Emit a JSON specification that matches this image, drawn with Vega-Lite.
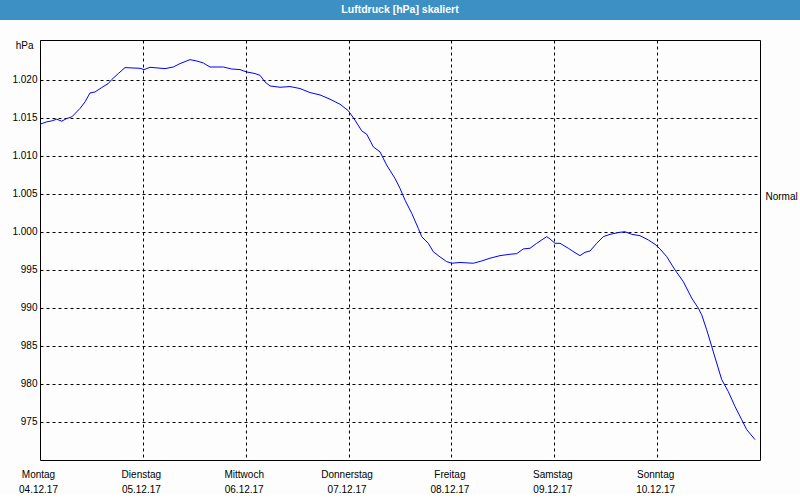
{
  "$schema": "https://vega.github.io/schema/vega-lite/v6.json",
  "background": "#fcfdfc",
  "padding": 0,
  "autosize": {"type": "pad"},
  "spacing": 20,
  "center": true,
  "bounds": "flush",
  "config": {
    "font": "Liberation Sans",
    "axis": {"labelFont": "Liberation Sans", "labelFontSize": 10, "labelColor": "#000000", "titleColor": "#000000"},
    "view": {"stroke": null}
  },
  "vconcat": [
    {
      "width": 800,
      "height": 20,
      "view": {"fill": "#3d90c4", "stroke": null},
      "data": {"values": [{"label": "Luftdruck [hPa] skaliert"}]},
      "mark": {"type": "text", "color": "#ffffff", "font": "Liberation Sans", "fontSize": 10.5, "fontWeight": "bold", "baseline": "middle", "align": "center"},
      "encoding": {"text": {"field": "label", "type": "nominal"}}
    },
    {
      "width": 720,
      "height": 420,
      "view": {"fill": "#fcfdfc", "stroke": "#000000", "strokeWidth": 1},
      "data": {"values": [
        {"t": "2017-12-04T00:00:00Z", "p": 1014.14},
        {"t": "2017-12-04T01:34:00Z", "p": 1014.44},
        {"t": "2017-12-04T02:44:00Z", "p": 1014.57},
        {"t": "2017-12-04T03:54:00Z", "p": 1014.79},
        {"t": "2017-12-04T05:04:00Z", "p": 1014.53},
        {"t": "2017-12-04T06:14:00Z", "p": 1014.88},
        {"t": "2017-12-04T07:24:00Z", "p": 1015.09},
        {"t": "2017-12-04T09:20:00Z", "p": 1016.20},
        {"t": "2017-12-04T10:30:00Z", "p": 1017.06},
        {"t": "2017-12-04T11:40:00Z", "p": 1018.24},
        {"t": "2017-12-04T12:50:00Z", "p": 1018.37},
        {"t": "2017-12-04T14:24:00Z", "p": 1018.95},
        {"t": "2017-12-04T15:56:00Z", "p": 1019.48},
        {"t": "2017-12-04T16:44:00Z", "p": 1020.00},
        {"t": "2017-12-04T18:16:00Z", "p": 1020.79},
        {"t": "2017-12-04T19:50:00Z", "p": 1021.57},
        {"t": "2017-12-04T23:20:00Z", "p": 1021.48},
        {"t": "2017-12-05T00:16:00Z", "p": 1021.31},
        {"t": "2017-12-05T01:40:00Z", "p": 1021.61},
        {"t": "2017-12-05T05:10:00Z", "p": 1021.44},
        {"t": "2017-12-05T07:06:00Z", "p": 1021.65},
        {"t": "2017-12-05T08:40:00Z", "p": 1022.10},
        {"t": "2017-12-05T11:00:00Z", "p": 1022.62},
        {"t": "2017-12-05T12:34:00Z", "p": 1022.44},
        {"t": "2017-12-05T14:06:00Z", "p": 1022.18},
        {"t": "2017-12-05T15:40:00Z", "p": 1021.65},
        {"t": "2017-12-05T18:46:00Z", "p": 1021.65},
        {"t": "2017-12-05T20:44:00Z", "p": 1021.39},
        {"t": "2017-12-05T22:40:00Z", "p": 1021.31},
        {"t": "2017-12-06T00:14:00Z", "p": 1021.00},
        {"t": "2017-12-06T02:10:00Z", "p": 1020.79},
        {"t": "2017-12-06T03:20:00Z", "p": 1020.56},
        {"t": "2017-12-06T04:30:00Z", "p": 1019.69},
        {"t": "2017-12-06T05:40:00Z", "p": 1019.16},
        {"t": "2017-12-06T08:00:00Z", "p": 1018.99},
        {"t": "2017-12-06T10:20:00Z", "p": 1019.08},
        {"t": "2017-12-06T12:40:00Z", "p": 1018.82},
        {"t": "2017-12-06T15:00:00Z", "p": 1018.29},
        {"t": "2017-12-06T17:20:00Z", "p": 1017.98},
        {"t": "2017-12-06T19:40:00Z", "p": 1017.42},
        {"t": "2017-12-06T22:00:00Z", "p": 1016.76},
        {"t": "2017-12-06T23:56:00Z", "p": 1015.91},
        {"t": "2017-12-07T01:30:00Z", "p": 1014.66},
        {"t": "2017-12-07T03:04:00Z", "p": 1013.26},
        {"t": "2017-12-07T04:14:00Z", "p": 1012.82},
        {"t": "2017-12-07T05:46:00Z", "p": 1011.16},
        {"t": "2017-12-07T07:20:00Z", "p": 1010.50},
        {"t": "2017-12-07T08:53:00Z", "p": 1008.76},
        {"t": "2017-12-07T10:50:00Z", "p": 1007.01},
        {"t": "2017-12-07T12:00:00Z", "p": 1005.70},
        {"t": "2017-12-07T13:10:00Z", "p": 1004.16},
        {"t": "2017-12-07T14:44:00Z", "p": 1002.42},
        {"t": "2017-12-07T16:16:00Z", "p": 1000.45},
        {"t": "2017-12-07T17:04:00Z", "p": 999.35},
        {"t": "2017-12-07T18:36:00Z", "p": 998.48},
        {"t": "2017-12-07T19:46:00Z", "p": 997.38},
        {"t": "2017-12-07T21:20:00Z", "p": 996.69},
        {"t": "2017-12-07T22:54:00Z", "p": 996.07},
        {"t": "2017-12-08T00:04:00Z", "p": 995.86},
        {"t": "2017-12-08T02:00:00Z", "p": 995.96},
        {"t": "2017-12-08T05:06:00Z", "p": 995.86},
        {"t": "2017-12-08T07:04:00Z", "p": 996.16},
        {"t": "2017-12-08T09:00:00Z", "p": 996.52},
        {"t": "2017-12-08T11:20:00Z", "p": 996.86},
        {"t": "2017-12-08T13:40:00Z", "p": 997.04},
        {"t": "2017-12-08T15:14:00Z", "p": 997.12},
        {"t": "2017-12-08T16:46:00Z", "p": 997.74},
        {"t": "2017-12-08T18:20:00Z", "p": 997.83},
        {"t": "2017-12-08T19:54:00Z", "p": 998.48},
        {"t": "2017-12-08T21:04:00Z", "p": 998.92},
        {"t": "2017-12-08T22:14:00Z", "p": 999.35},
        {"t": "2017-12-08T23:00:00Z", "p": 999.05},
        {"t": "2017-12-09T00:10:00Z", "p": 998.48},
        {"t": "2017-12-09T01:20:00Z", "p": 998.48},
        {"t": "2017-12-09T03:16:00Z", "p": 997.83},
        {"t": "2017-12-09T04:50:00Z", "p": 997.25},
        {"t": "2017-12-09T06:00:00Z", "p": 996.86},
        {"t": "2017-12-09T07:10:00Z", "p": 997.30},
        {"t": "2017-12-09T08:20:00Z", "p": 997.47},
        {"t": "2017-12-09T09:54:00Z", "p": 998.48},
        {"t": "2017-12-09T11:26:00Z", "p": 999.35},
        {"t": "2017-12-09T13:00:00Z", "p": 999.66},
        {"t": "2017-12-09T15:20:00Z", "p": 999.93},
        {"t": "2017-12-09T16:30:00Z", "p": 1000.00},
        {"t": "2017-12-09T18:04:00Z", "p": 999.66},
        {"t": "2017-12-09T20:00:00Z", "p": 999.48},
        {"t": "2017-12-09T21:56:00Z", "p": 998.92},
        {"t": "2017-12-09T23:30:00Z", "p": 998.35},
        {"t": "2017-12-10T00:40:00Z", "p": 997.74},
        {"t": "2017-12-10T02:14:00Z", "p": 996.73},
        {"t": "2017-12-10T04:10:00Z", "p": 994.98},
        {"t": "2017-12-10T06:06:00Z", "p": 993.45},
        {"t": "2017-12-10T08:04:00Z", "p": 991.27},
        {"t": "2017-12-10T09:36:00Z", "p": 989.96},
        {"t": "2017-12-10T10:24:00Z", "p": 989.08},
        {"t": "2017-12-10T11:34:00Z", "p": 987.11},
        {"t": "2017-12-10T12:44:00Z", "p": 984.92},
        {"t": "2017-12-10T13:54:00Z", "p": 982.74},
        {"t": "2017-12-10T15:04:00Z", "p": 980.56},
        {"t": "2017-12-10T16:36:00Z", "p": 979.00},
        {"t": "2017-12-10T18:10:00Z", "p": 977.03},
        {"t": "2017-12-10T19:44:00Z", "p": 975.30},
        {"t": "2017-12-10T20:54:00Z", "p": 973.99},
        {"t": "2017-12-10T22:50:00Z", "p": 972.68}
      ]},
      "layer": [
        {
          "mark": {"type": "line", "color": "#0000ff", "strokeWidth": 1},
          "encoding": {
            "x": {
              "field": "t",
              "type": "temporal",
              "scale": {"type": "utc", "domain": [{"year": 2017, "month": 12, "date": 4, "utc": true}, {"year": 2017, "month": 12, "date": 11, "utc": true}]},
              "axis": {
                "title": null,
                "values": [
                  {"year": 2017, "month": 12, "date": 4, "utc": true},
                  {"year": 2017, "month": 12, "date": 5, "utc": true},
                  {"year": 2017, "month": 12, "date": 6, "utc": true},
                  {"year": 2017, "month": 12, "date": 7, "utc": true},
                  {"year": 2017, "month": 12, "date": 8, "utc": true},
                  {"year": 2017, "month": 12, "date": 9, "utc": true},
                  {"year": 2017, "month": 12, "date": 10, "utc": true}
                ],
                "labelExpr": "[['Sonntag','Montag','Dienstag','Mittwoch','Donnerstag','Freitag','Samstag'][utcday(datum.value)], utcFormat(datum.value, '%d.%m.%y')]",
                "labelLineHeight": 15,
                "labelBaseline": "top",
                "labelPadding": 9,
                "labelOffset": -2,
                "labelFlush": false,
                "labelOverlap": false,
                "ticks": false,
                "domain": false,
                "grid": true,
                "gridColor": "#000000",
                "gridOpacity": 1,
                "gridWidth": 1,
                "gridDash": [3, 3]
              }
            },
            "y": {
              "field": "p",
              "type": "quantitative",
              "scale": {"domain": [970, 1025.2], "nice": false, "zero": false},
              "axis": {
                "title": "hPa",
                "titleAngle": 0,
                "titleAlign": "right",
                "titleBaseline": "middle",
                "titleX": -7,
                "titleY": 5,
                "titleFont": "Liberation Sans",
                "titleFontSize": 10,
                "titleFontWeight": "normal",
                "values": [975, 980, 985, 990, 995, 1000, 1005, 1010, 1015, 1020],
                "labelExpr": "replace(format(datum.value, ','), ',', '.')",
                "labelPadding": 3,
                "ticks": false,
                "domain": false,
                "grid": true,
                "gridColor": "#000000",
                "gridOpacity": 1,
                "gridWidth": 1,
                "gridDash": [3, 3]
              }
            }
          }
        },
        {
          "mark": {"type": "rule", "opacity": 0},
          "encoding": {
            "y": {
              "datum": 1004.6,
              "type": "quantitative",
              "axis": {
                "orient": "right",
                "title": null,
                "values": [1004.6],
                "labelExpr": "'Normal'",
                "labelPadding": 5,
                "ticks": false,
                "domain": false,
                "grid": false
              }
            }
          }
        }
      ],
      "resolve": {"axis": {"y": "independent"}}
    }
  ]
}
